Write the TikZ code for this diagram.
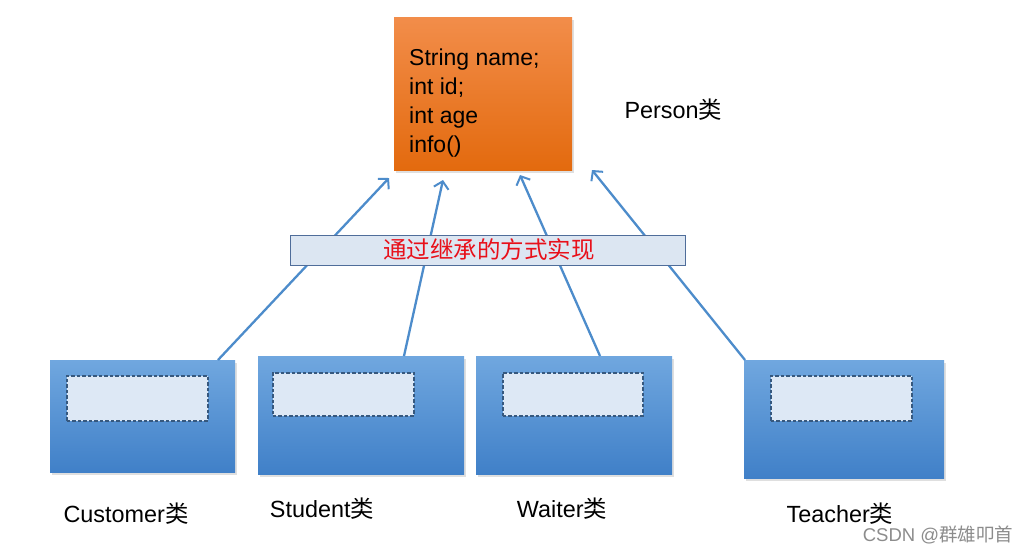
\documentclass[tikz,border=0pt]{standalone}
\usepackage{fontspec}
\setmainfont{Liberation Sans}
\newfontfamily\cjk{Noto Sans CJK SC}
\usetikzlibrary{arrows.meta,shadows}
\definecolor{orT}{HTML}{F28D4A}
\definecolor{orB}{HTML}{E36A0E}
\definecolor{blT}{HTML}{70A7DF}
\definecolor{blB}{HTML}{4080C8}
\definecolor{innerfill}{HTML}{DDE8F5}
\definecolor{innerline}{HTML}{36587E}
\definecolor{arrcol}{HTML}{4D8CCB}
\definecolor{bannerfill}{HTML}{DCE6F2}
\definecolor{bannerline}{HTML}{4F6D9A}
\definecolor{redtxt}{HTML}{E8101A}
\begin{document}
\begin{tikzpicture}[x=1pt,y=-1pt,
  person/.style={rectangle, inner sep=0pt, anchor=north west, top color=orT, bottom color=orB, draw=none,
    drop shadow={opacity=0.25, shadow xshift=1.5pt, shadow yshift=-3pt}},
  cls/.style={rectangle, inner sep=0pt, anchor=north west, top color=blT, bottom color=blB, draw=none,
    drop shadow={opacity=0.25, shadow xshift=1.5pt, shadow yshift=-3pt}},
  slot/.style={rectangle, inner sep=0pt, anchor=north west, fill=innerfill, draw=innerline,
    dash pattern=on 3.5pt off 2pt, line width=1.7pt},
  inherit/.style={draw=arrcol, line width=2.3pt, -{Straight Barb[length=7pt,width=15pt,line width=2pt]}},
  lbl/.style={font=\fontsize{23.4}{26}\selectfont, text=black},
  banner/.style={rectangle, inner sep=0pt, anchor=north west, fill=bannerfill, draw=bannerline, line width=1pt}
]
\useasboundingbox (0,0) rectangle (1029,552);
\fill[white] (0,0) rectangle (1029,552);

% Person class
\node[person, minimum width=178pt, minimum height=153pt] (person) at (394,17) {};
\node[anchor=west, align=left, inner sep=0pt, font=\fontsize{23}{29}\selectfont] (ptext) at (409,103)
  {String name;\\int id;\\int age\\info()};
\node[lbl, anchor=west] (personlbl) at (621,110) {Person{\cjk 类}};

% subclasses
\node[cls, minimum width=185pt, minimum height=112pt] (cust) at (50,360) {};
\node[slot, minimum width=141pt, minimum height=45pt] (custslot) at (66,375) {};
\node[cls, minimum width=206pt, minimum height=118pt] (stud) at (258,356) {};
\node[slot, minimum width=141pt, minimum height=43pt] (studslot) at (272,372) {};
\node[cls, minimum width=196pt, minimum height=118pt] (wait) at (476,356) {};
\node[slot, minimum width=140pt, minimum height=43pt] (waitslot) at (502,372) {};
\node[cls, minimum width=200pt, minimum height=118pt] (teach) at (744,360) {};
\node[slot, minimum width=141pt, minimum height=45pt] (teachslot) at (770,375) {};

% connector ends
\coordinate (s1) at (218,360);
\coordinate (t1) at (389,178);
\coordinate (s2) at (404,356);
\coordinate (t2) at (443,180);
\coordinate (s3) at (600,356);
\coordinate (t3) at (520,175);
\coordinate (s4) at (745,360);
\coordinate (t4) at (592,170);

\draw[inherit] (s1) -- (t1);
\draw[inherit] (s2) -- (t2);
\draw[inherit] (s3) -- (t3);
\draw[inherit] (s4) -- (t4);

% banner
\node[banner, minimum width=395pt, minimum height=30pt] (banner) at (290,235) {};
\node[font=\cjk\fontsize{23.5}{26}\selectfont, text=redtxt] (bannertxt) at (489,250) {通过继承的方式实现};

% labels
\node[lbl] (custlbl) at (126,514) {Customer{\cjk 类}};
\node[lbl] (studlbl) at (322,509) {Student{\cjk 类}};
\node[lbl] (waitlbl) at (562,509) {Waiter{\cjk 类}};
\node[lbl] (teachlbl) at (840,514) {Teacher{\cjk 类}};

% watermark
\node[font=\fontsize{18.5}{20}\selectfont, text=black!45] (wm) at (938,535) {CSDN @{\cjk 群雄叩首}};
\end{tikzpicture}
\end{document}
